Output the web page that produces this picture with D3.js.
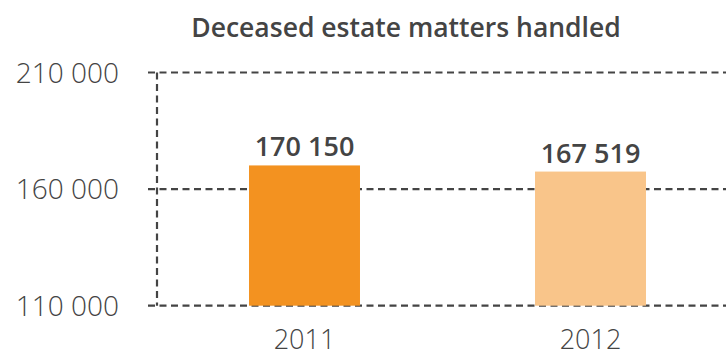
<!DOCTYPE html>
<html><head><meta charset="utf-8">
<script src="https://cdn.jsdelivr.net/npm/d3@7"></script>
<style>
html,body{margin:0;padding:0;background:#fff;}
svg{display:block;}
</style></head>
<body>
<script>
const title = "Deceased estate matters handled";
const categories = ["2011", "2012"];
const values = [170150, 167519];
const tickValues = [110000, 160000, 210000];
const colors = ["#F39220", "#F9C58A"];

const W = 726, H = 356;
const svg = d3.select("body").append("svg").attr("width", W).attr("height", H);
const fmt = v => d3.format(",")(v).replace(/,/g, " ");

const y = d3.scaleLinear().domain([110000, 210000]).range([305.7, 72.5]);
const x = d3.scaleBand().domain(categories).range([161.5, 733.5]).paddingInner(0.612).paddingOuter(0.306);

const ink = "#444";
svg.append("g").selectAll("line").data(tickValues).join("line")
  .attr("x1", 148).attr("x2", W)
  .attr("y1", d => y(d)).attr("y2", d => y(d))
  .attr("stroke", ink).attr("stroke-width", 2.2).attr("stroke-dasharray", "7,4.5");
svg.append("line").attr("x1", 157).attr("x2", 157)
  .attr("y1", y(210000)).attr("y2", y(110000))
  .attr("stroke", ink).attr("stroke-width", 2.2).attr("stroke-dasharray", "7,4.5");

svg.append("g").selectAll("text").data(tickValues).join("text")
  .attr("x", 119).attr("y", d => y(d) + 10)
  .attr("text-anchor", "end")
  .attr("font-family", "Open Sans").attr("font-weight", 300).attr("font-size", 28)
  .attr("fill", ink).text(d => fmt(d));

svg.append("g").selectAll("rect").data(values).join("rect")
  .attr("x", (d, i) => x(categories[i]))
  .attr("width", x.bandwidth())
  .attr("y", d => y(d))
  .attr("height", d => y(110000) - y(d))
  .attr("fill", (d, i) => colors[i]);

svg.append("g").selectAll("text").data(values).join("text")
  .attr("x", (d, i) => x(categories[i]) + x.bandwidth() / 2)
  .attr("y", d => y(d) - 9)
  .attr("text-anchor", "middle")
  .attr("font-family", "Open Sans").attr("font-weight", 600).attr("font-size", 27)
  .attr("fill", ink).text(d => fmt(d));

svg.append("g").selectAll("text").data(categories).join("text")
  .attr("x", d => x(d) + x.bandwidth() / 2)
  .attr("y", 349)
  .attr("text-anchor", "middle")
  .attr("font-family", "Open Sans").attr("font-weight", 300).attr("font-size", 27)
  .attr("fill", ink).text(d => d);

svg.append("text").attr("x", 406).attr("y", 37)
  .attr("text-anchor", "middle")
  .attr("font-family", "Open Sans").attr("font-weight", 600).attr("font-size", 26.5)
  .attr("fill", ink).text(title);
</script>
</body></html>
